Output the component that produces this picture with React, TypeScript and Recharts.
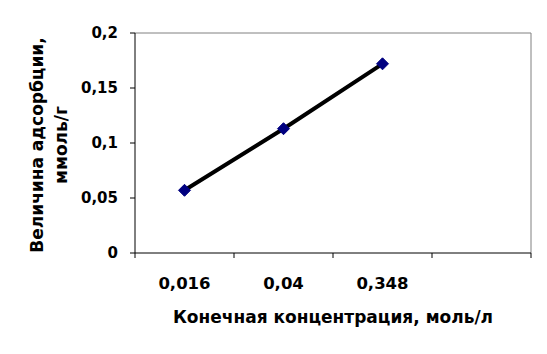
import React from 'react';
import { LineChart, Line, XAxis, YAxis, ReferenceLine, Label } from 'recharts';

const categories = ['0,016', '0,04', '0,348'];
const adsorption = [0.057, 0.113, 0.172];
const slotCount = 4;
const yTicks = [0, 0.05, 0.1, 0.15, 0.2];
const xTitle = 'Конечная концентрация, моль/л';
const yTitleLines = ['Величина адсорбции,', 'ммоль/г'];

const data = categories.map((c, i) => ({ pos: i + 0.5, cat: c, v: adsorption[i] }));
const xTicks: number[] = [];
for (let i = 0; i <= slotCount * 2; i++) xTicks.push(i / 2);

const FONT = 'DejaVu Sans, sans-serif';

const XTick = (props: any) => {
  const { x, y, payload } = props;
  const val = payload.value as number;
  if (Number.isInteger(val)) {
    return <line x1={x} x2={x} y1={y - 5} y2={y} stroke="#000" strokeWidth={1} />;
  }
  const idx = Math.floor(val);
  const label = categories[idx];
  if (!label) return null;
  return (
    <text x={x} y={y} dy={31} textAnchor="middle" fontFamily={FONT} fontWeight="bold" fontSize={16.5} fill="#000">
      {label}
    </text>
  );
};

const Diamond = (props: any) => {
  const { cx, cy } = props;
  if (cx == null || cy == null) return null;
  const r = 6;
  return (
    <polygon
      points={`${cx},${cy - r} ${cx + r},${cy} ${cx},${cy + r} ${cx - r},${cy}`}
      fill="#000080"
      stroke="#000080"
      strokeWidth={1}
    />
  );
};

const YTitle = (props: any) => {
  const cx = 49;
  const cy = 145;
  return (
    <text
      transform={`rotate(-90, ${cx}, ${cy})`}
      x={cx}
      y={cy}
      textAnchor="middle"
      fontFamily={FONT}
      fontWeight="bold"
      fontSize={17}
      fill="#000"
    >
      <tspan x={cx} dy={-6}>{yTitleLines[0]}</tspan>
      <tspan x={cx} dy={24}>{yTitleLines[1]}</tspan>
    </text>
  );
};

export default function App() {
  return (
    <div style={{ position: 'absolute', left: 0, top: 0, width: 547, height: 354, background: '#fff' }}>
      <LineChart width={547} height={354} data={data} margin={{ top: 33, right: 16, left: 0, bottom: 51 }}>
        <XAxis
          dataKey="pos"
          type="number"
          domain={[0, slotCount]}
          ticks={xTicks}
          interval={0}
          tick={<XTick />}
          tickLine={false}
          tickSize={5}
          tickMargin={0}
          axisLine={{ stroke: '#000', strokeWidth: 1 }}
          height={50}
        >
          <Label
            value={xTitle}
            position="bottom"
            offset={8}
            fontFamily={FONT}
            fontWeight="bold"
            fontSize={17}
            fill="#000"
          />
        </XAxis>
        <YAxis
          type="number"
          domain={[0, 0.2]}
          ticks={yTicks}
          interval={0}
          width={135}
          tickSize={5}
          tickMargin={12}
          tickLine={{ stroke: '#000' }}
          axisLine={{ stroke: '#000', strokeWidth: 1 }}
          tickFormatter={(v: number) => String(v).replace('.', ',')}
          tick={{ fontFamily: FONT, fontWeight: 'bold', fontSize: 15, fill: '#000' }}
        >
          <Label content={<YTitle />} />
        </YAxis>
        <ReferenceLine y={0.2} stroke="#808080" strokeWidth={1} />
        <ReferenceLine x={slotCount} stroke="#808080" strokeWidth={1} />
        <Line
          dataKey="v"
          stroke="#000"
          strokeWidth={4}
          dot={<Diamond />}
          activeDot={false}
          isAnimationActive={false}
        />
      </LineChart>
    </div>
  );
}
